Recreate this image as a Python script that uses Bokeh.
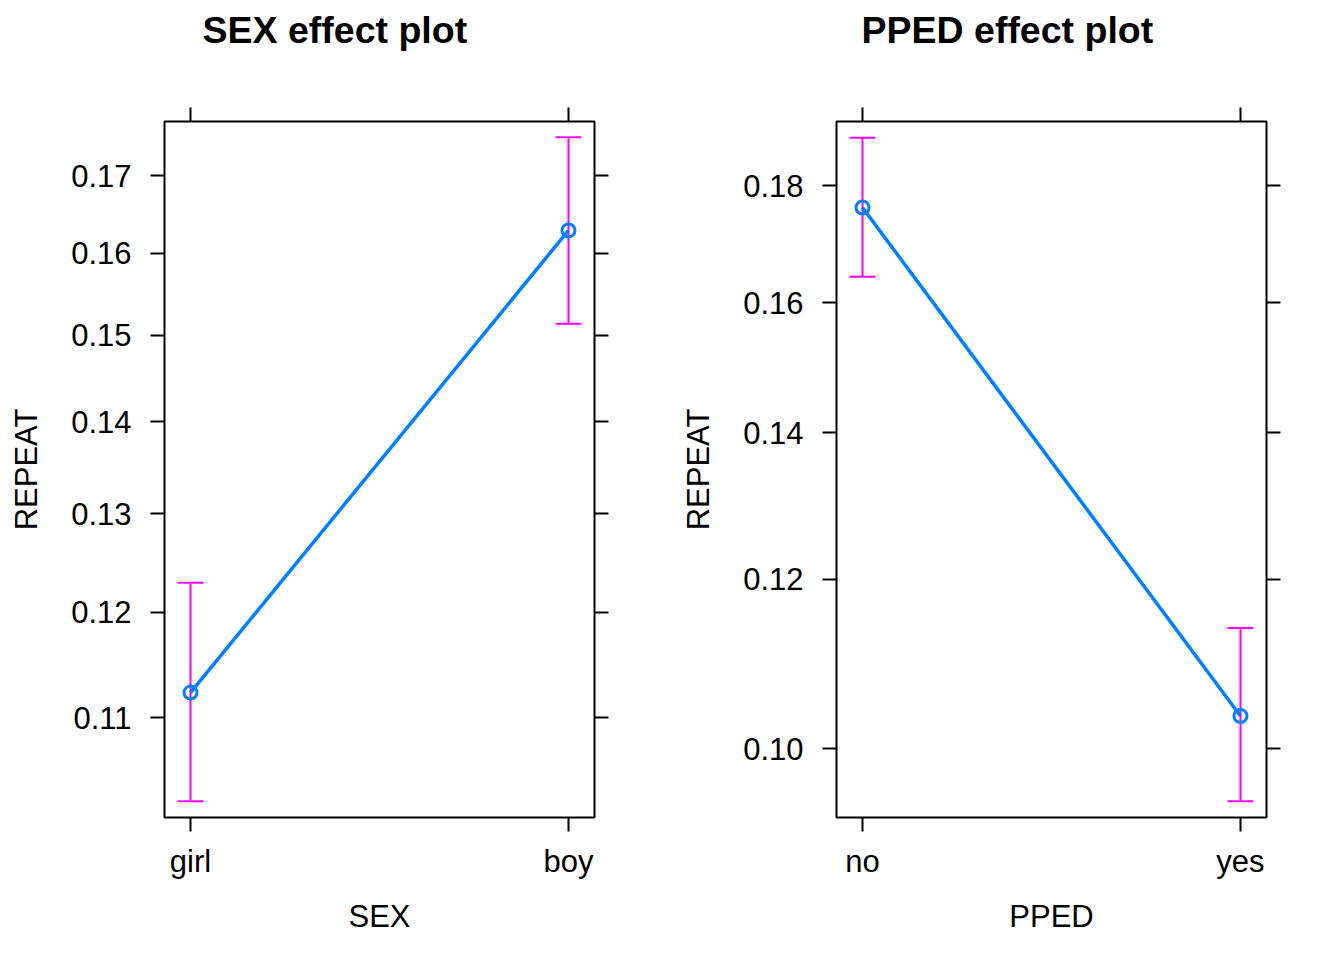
import numpy as np
from bokeh.plotting import figure
from bokeh.models import (ColumnDataSource, Range1d, FixedTicker, LinearAxis,
                          CustomJSTickFormatter, Whisker, TeeHead, Label)
from bokeh.layouts import row, column
from bokeh.embed import file_html
from bokeh.resources import INLINE

# ---- data ----
sex_levels = ["girl", "boy"]
sex_fit = [0.1123, 0.1629]
sex_lower = [0.1026, 0.1514]
sex_upper = [0.1229, 0.1751]
sex_ticks = [0.11, 0.12, 0.13, 0.14, 0.15, 0.16, 0.17]

pped_levels = ["no", "yes"]
pped_fit = [0.1761, 0.1036]
pped_lower = [0.1643, 0.0944]
pped_upper = [0.1887, 0.1139]
pped_ticks = [0.10, 0.12, 0.14, 0.16, 0.18]

FONT = "Liberation Sans"
LINE_BLUE = "#0080FF"
BAR_MAGENTA = "#FF00FF"

W = 664          # width of one panel
TITLE_H = 60     # height of the title strip


def logit(p):
    p = np.asarray(p, dtype=float)
    return np.log(p / (1 - p))


def title_strip(text, text_left):
    t = figure(width=W, height=TITLE_H, output_backend="svg", toolbar_location=None,
               x_range=Range1d(0, W), y_range=Range1d(TITLE_H, 0),
               x_axis_type=None, y_axis_type=None,
               min_border=0, min_border_left=0, min_border_right=0,
               min_border_top=0, min_border_bottom=0)
    t.outline_line_color = None
    t.xgrid.visible = False
    t.ygrid.visible = False
    t.add_layout(Label(x=text_left, y=29, text=text, text_font=FONT,
                       text_font_size="37.5px", text_font_style="bold",
                       text_color="black", text_align="left",
                       text_baseline="alphabetic"))
    return t


def effect_panel(xname, levels, fit, lower, upper, ticks, yrange, border_left):
    xs = list(range(1, len(levels) + 1))
    src = ColumnDataSource(dict(x=xs, fit=logit(fit), lower=logit(lower),
                                upper=logit(upper)))
    p = figure(width=W, height=944 - TITLE_H, output_backend="svg",
               toolbar_location=None,
               x_range=Range1d(1 - 0.0688, len(levels) + 0.0688),
               y_range=Range1d(*yrange),
               min_border_left=border_left, min_border_top=121 - TITLE_H,
               min_border_right=W - border_left - 430, min_border_bottom=127,
               x_axis_label=xname, y_axis_label="REPEAT")
    p.xgrid.visible = False
    p.ygrid.visible = False
    p.outline_line_color = "black"
    p.outline_line_width = 2
    p.background_fill_color = "white"
    p.border_fill_color = "white"

    yt = FixedTicker(ticks=list(logit(ticks)))
    xt = FixedTicker(ticks=xs)
    yfmt = CustomJSTickFormatter(code="return (1/(1+Math.exp(-tick))).toFixed(2);")
    blank = CustomJSTickFormatter(code="return '';")

    for ax in p.yaxis:
        ax.ticker = yt
        ax.formatter = yfmt
    for ax in p.xaxis:
        ax.ticker = xt
        ax.major_label_overrides = {x: lab for x, lab in zip(xs, levels)}

    for ax in list(p.xaxis) + list(p.yaxis):
        ax.axis_line_color = None
        ax.major_tick_out = 14
        ax.major_tick_in = 0
        ax.minor_tick_out = 0
        ax.minor_tick_in = 0
        ax.major_tick_line_width = 2
        ax.major_tick_line_color = "black"
        ax.major_label_text_font = FONT
        ax.major_label_text_font_size = "31px"
        ax.major_label_text_color = "black"
        ax.axis_label_text_font = FONT
        ax.axis_label_text_font_size = "31px"
        ax.axis_label_text_font_style = "normal"
        ax.axis_label_text_color = "black"
    p.yaxis.major_label_standoff = 19
    p.yaxis.axis_label_standoff = 24
    p.xaxis.major_label_standoff = 12
    p.xaxis.axis_label_standoff = 17

    top = LinearAxis(ticker=xt, formatter=blank, major_label_standoff=0,
                     major_label_text_font_size="0px",
                     axis_line_color=None, major_tick_out=14, major_tick_in=0,
                     minor_tick_out=0, minor_tick_in=0, major_tick_line_width=2,
                     major_tick_line_color="black")
    right = LinearAxis(ticker=yt, formatter=blank, major_label_standoff=0,
                       axis_line_color=None, major_tick_out=14, major_tick_in=0,
                       minor_tick_out=0, minor_tick_in=0, major_tick_line_width=2,
                       major_tick_line_color="black")
    p.add_layout(top, "above")
    p.add_layout(right, "right")

    w = Whisker(source=src, base="x", lower="lower", upper="upper",
                dimension="height", line_color=BAR_MAGENTA, line_width=2,
                upper_head=TeeHead(size=26, line_color=BAR_MAGENTA, line_width=2),
                lower_head=TeeHead(size=26, line_color=BAR_MAGENTA, line_width=2),
                level="underlay")
    p.add_layout(w)
    p.line("x", "fit", source=src, line_color=LINE_BLUE, line_width=3.5)
    p.scatter("x", "fit", source=src, marker="circle", size=13,
              fill_color=None, line_color=LINE_BLUE, line_width=3)
    return p


t1 = title_strip("SEX effect plot", 202)
t2 = title_strip("PPED effect plot", 861 - W)
p1 = effect_panel("SEX", sex_levels, sex_fit, sex_lower, sex_upper, sex_ticks,
                  (-2.1839, -1.5353), 164)
p2 = effect_panel("PPED", pped_levels, pped_fit, pped_lower, pped_upper,
                  pped_ticks, (-2.2806, -1.4389), 172)

layout = column(row(t1, t2), row(p1, p2))
open("out.html", "w").write(file_html(layout, INLINE))
